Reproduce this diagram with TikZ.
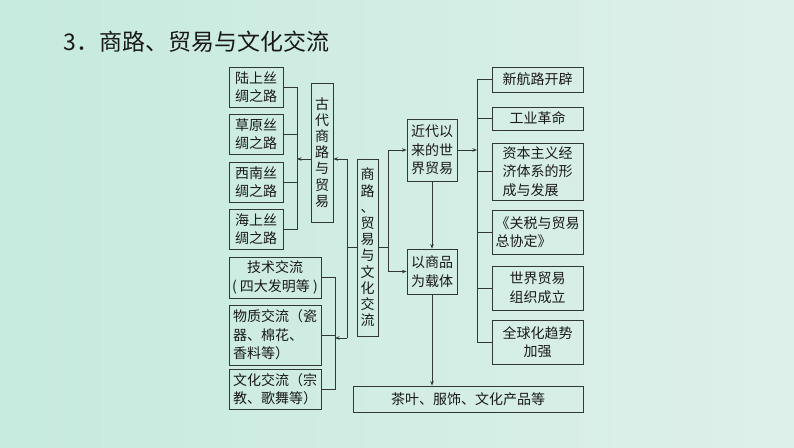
\documentclass[tikz,border=0pt]{standalone}
\usepackage{fontspec}
\setmainfont{Noto Sans CJK SC}
\usetikzlibrary{arrows.meta}
\definecolor{bgL}{RGB}{198,234,222}
\definecolor{bgR}{RGB}{222,240,234}
\definecolor{ln}{RGB}{50,55,55}
\definecolor{tx}{RGB}{25,25,25}
\tikzset{
  bx/.style={draw=ln, line width=0.9pt, inner sep=1pt, text=tx,
    font=\fontsize{14}{18.5}\selectfont, align=center},
  lbx/.style={bx, align=left},
  vbx/.style={bx, font=\fontsize{14}{16.2}\selectfont, inner sep=0pt},
  cn/.style={draw=ln, line width=0.9pt},
  ar/.style={cn, -{Stealth[length=4.5pt,width=3.5pt]}}
}
\begin{document}
\begin{tikzpicture}[x=1pt,y=-1pt]
\shade[left color=bgL, right color=bgR] (0,0) rectangle (794,447);
\useasboundingbox (0,0) rectangle (794,447);
\node[anchor=west, text=tx, font=\fontsize{23}{26}\selectfont] (title) at (60,42) {3．商路、贸易与文化交流};
% left column
\node[bx, minimum width=54pt, minimum height=40pt] (lu) at (256,87) {陆上丝\\绸之路};
\node[bx, minimum width=54pt, minimum height=40pt] (cao) at (256,134) {草原丝\\绸之路};
\node[bx, minimum width=54pt, minimum height=40pt] (xn) at (256,182) {西南丝\\绸之路};
\node[bx, minimum width=54pt, minimum height=40pt] (hai) at (256,229) {海上丝\\绸之路};
\node[vbx, minimum width=22pt, minimum height=139pt] (gd) at (322,152.5) {古\\代\\商\\路\\与\\贸\\易};
\node[bx, minimum width=92pt, minimum height=41pt] (js) at (275,277.5) {技术交流\\( 四大发明等 )};
\node[lbx, minimum width=92pt, minimum height=60pt] (wz) at (275,335) {物质交流（瓷\\器、棉花、\\香料等）};
\node[lbx, minimum width=92pt, minimum height=40pt] (wh) at (275,389) {文化交流（宗\\教、歌舞等）};
\node[vbx, minimum width=21pt, minimum height=177pt] (sl) at (367.5,247.5) {商\\路\\、\\贸\\易\\与\\文\\化\\交\\流};
% middle right
\node[bx, minimum width=50pt, minimum height=62pt] (jd) at (432,150) {近代以\\来的世\\界贸易};
\node[bx, minimum width=50pt, minimum height=45pt] (sp) at (432,271.5) {以商品\\为载体};
% right column
\node[bx, minimum width=91pt, minimum height=25pt] (xh) at (537.5,79.5) {新航路开辟};
\node[bx, minimum width=91pt, minimum height=23pt] (gy) at (537.5,118.5) {工业革命};
\node[lbx, minimum width=91pt, minimum height=57pt] (zb) at (537.5,171.5) {资本主义经\\济体系的形\\成与发展};
\node[lbx, minimum width=91pt, minimum height=44pt] (gs) at (537.5,232) {《关税与贸易\\总协定》};
\node[bx, minimum width=91pt, minimum height=44pt] (sm) at (537.5,288) {世界贸易\\组织成立};
\node[bx, minimum width=91pt, minimum height=44pt] (qq) at (537.5,342) {全球化趋势\\加强};
\node[bx, minimum width=230pt, minimum height=26pt] (cy) at (468,399) {茶叶、服饰、文化产品等};
% coordinates
\coordinate (kA) at (297,159);
\coordinate (m1) at (347,159);
\coordinate (m2) at (347,338);
\coordinate (mL) at (347,247.5);
\coordinate (kB) at (335,338);
\coordinate (r1) at (388,150);
\coordinate (r2) at (388,271.5);
\coordinate (rL) at (388,247.5);
\coordinate (kC) at (477,150);
% left bracket
\draw[cn] (lu.east) -- (lu.east -| kA) -- (hai.east -| kA) -- (hai.east);
\draw[cn] (cao.east) -- (cao.east -| kA);
\draw[cn] (xn.east) -- (xn.east -| kA);
\draw[ar] (kA -| gd.west) -- (kA);
% middle trunk
\draw[cn] (sl.west) -- (mL);
\draw[cn] (m1) -- (m2);
\draw[ar] (m1) -- (m1 -| gd.east);
\draw[ar] (m2) -- (kB);
\draw[cn] (js.east) -- (js.east -| kB) -- (wh.east -| kB) -- (wh.east);
\draw[cn] (wz.east) -- (wz.east -| kB);
% right trunk
\draw[cn] (sl.east) -- (rL);
\draw[cn] (r1) -- (r2);
\draw[ar] (r1) -- (jd.west);
\draw[ar] (r2) -- (sp.west);
\draw[ar] (jd.south) -- (sp.north);
\draw[ar] (jd.east) -- (kC);
\draw[cn] (xh.west) -- (xh.west -| kC) -- (qq.west -| kC) -- (qq.west);
\draw[cn] (gy.west) -- (gy.west -| kC);
\draw[cn] (zb.west) -- (zb.west -| kC);
\draw[cn] (gs.west) -- (gs.west -| kC);
\draw[cn] (sm.west) -- (sm.west -| kC);
\draw[ar] (sp.south) -- (sp.south |- cy.north);
\end{tikzpicture}
\end{document}
